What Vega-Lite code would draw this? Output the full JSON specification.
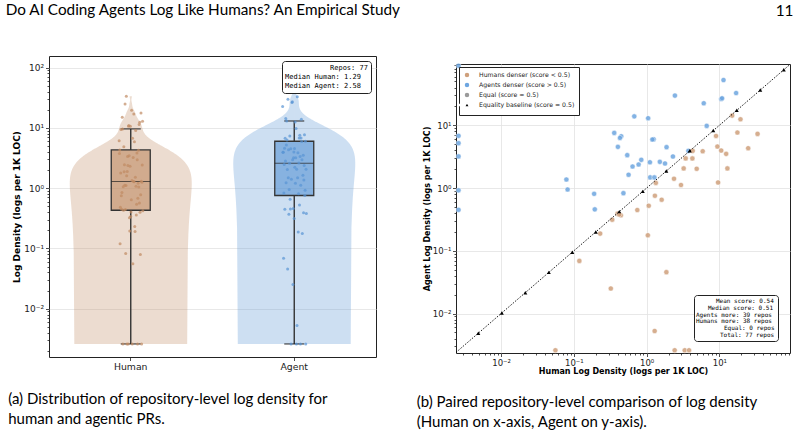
{
  "$schema": "https://vega.github.io/schema/vega-lite/v6.json",
  "background": "white",
  "padding": {"left": 5, "top": 3, "right": 0, "bottom": 0},
  "config": {
    "font": "DejaVu Sans",
    "view": {"stroke": "#222", "strokeWidth": 1},
    "axis": {"labelFont": "DejaVu Sans", "titleFont": "DejaVu Sans", "labelColor": "#222", "titleColor": "#000", "tickColor": "#222", "tickWidth": 0.8, "domain": false, "gridColor": "#e2e2e2", "gridWidth": 0.8, "labelOverlap": false, "labelFlush": false},
    "legend": {"labelFont": "DejaVu Sans"},
    "title": {"font": "Lato", "fontWeight": "normal", "color": "#000"}
  },
  "datasets": {
    "repos": [
      {"repo": "r30", "Human": 0.0026, "Agent": 89, "denser": "Agents"},
      {"repo": "r60", "Human": 0.0026, "Agent": 6.8, "denser": "Agents"},
      {"repo": "r13", "Human": 0.0026, "Agent": 5.2, "denser": "Agents"},
      {"repo": "r43", "Human": 0.0026, "Agent": 3.2, "denser": "Agents"},
      {"repo": "r73", "Human": 0.0026, "Agent": 0.92, "denser": "Agents"},
      {"repo": "r26", "Human": 0.0026, "Agent": 0.45, "denser": "Agents"},
      {"repo": "r56", "Human": 0.359, "Agent": 7.57, "denser": "Agents"},
      {"repo": "r09", "Human": 0.448, "Agent": 6.71, "denser": "Agents"},
      {"repo": "r39", "Human": 0.403, "Agent": 4.54, "denser": "Agents"},
      {"repo": "r69", "Human": 0.079, "Agent": 1.37, "denser": "Agents"},
      {"repo": "r22", "Human": 0.082, "Agent": 0.95, "denser": "Agents"},
      {"repo": "r52", "Human": 0.19, "Agent": 0.81, "denser": "Agents"},
      {"repo": "r05", "Human": 0.48, "Agent": 0.83, "denser": "Agents"},
      {"repo": "r35", "Human": 0.194, "Agent": 0.458, "denser": "Agents"},
      {"repo": "r65", "Human": 11.4, "Agent": 52.7, "denser": "Agents"},
      {"repo": "r18", "Human": 2.45, "Agent": 29.8, "denser": "Agents"},
      {"repo": "r48", "Human": 17.0, "Agent": 32.7, "denser": "Agents"},
      {"repo": "r01", "Human": 6.1, "Agent": 22.5, "denser": "Agents"},
      {"repo": "r31", "Human": 10.6, "Agent": 26.3, "denser": "Agents"},
      {"repo": "r61", "Human": 0.677, "Agent": 13.9, "denser": "Agents"},
      {"repo": "r14", "Human": 1.05, "Agent": 13.0, "denser": "Agents"},
      {"repo": "r44", "Human": 6.7, "Agent": 9.8, "denser": "Agents"},
      {"repo": "r74", "Human": 1.25, "Agent": 6.0, "denser": "Agents"},
      {"repo": "r27", "Human": 1.88, "Agent": 4.49, "denser": "Agents"},
      {"repo": "r57", "Human": 0.542, "Agent": 3.35, "denser": "Agents"},
      {"repo": "r10", "Human": 0.845, "Agent": 2.82, "denser": "Agents"},
      {"repo": "r40", "Human": 0.641, "Agent": 2.21, "denser": "Agents"},
      {"repo": "r70", "Human": 0.776, "Agent": 2.38, "denser": "Agents"},
      {"repo": "r23", "Human": 1.11, "Agent": 2.58, "denser": "Agents"},
      {"repo": "r53", "Human": 1.52, "Agent": 2.62, "denser": "Agents"},
      {"repo": "r06", "Human": 1.79, "Agent": 2.47, "denser": "Agents"},
      {"repo": "r36", "Human": 2.3, "Agent": 3.19, "denser": "Agents"},
      {"repo": "r66", "Human": 0.565, "Agent": 1.63, "denser": "Agents"},
      {"repo": "r19", "Human": 1.12, "Agent": 1.48, "denser": "Agents"},
      {"repo": "r49", "Human": 1.28, "Agent": 1.48, "denser": "Agents"},
      {"repo": "r02", "Human": 3.75, "Agent": 3.92, "denser": "Agents"},
      {"repo": "r32", "Human": 10.9, "Agent": 27.0, "denser": "Agents"},
      {"repo": "r62", "Human": 1.2, "Agent": 5.95, "denser": "Agents"},
      {"repo": "r15", "Human": 0.43, "Agent": 6.3, "denser": "Agents"},
      {"repo": "r45", "Human": 0.0558, "Agent": 0.0026, "denser": "Humans"},
      {"repo": "r75", "Human": 2.43, "Agent": 0.0026, "denser": "Humans"},
      {"repo": "r28", "Human": 3.34, "Agent": 0.0026, "denser": "Humans"},
      {"repo": "r58", "Human": 3.83, "Agent": 0.0026, "denser": "Humans"},
      {"repo": "r11", "Human": 15.0, "Agent": 14.3, "denser": "Humans"},
      {"repo": "r41", "Human": 19.5, "Agent": 12.5, "denser": "Humans"},
      {"repo": "r71", "Human": 17.7, "Agent": 7.68, "denser": "Humans"},
      {"repo": "r24", "Human": 33.5, "Agent": 7.3, "denser": "Humans"},
      {"repo": "r54", "Human": 9.0, "Agent": 6.78, "denser": "Humans"},
      {"repo": "r07", "Human": 9.4, "Agent": 4.6, "denser": "Humans"},
      {"repo": "r37", "Human": 10.6, "Agent": 3.97, "denser": "Humans"},
      {"repo": "r67", "Human": 12.4, "Agent": 3.51, "denser": "Humans"},
      {"repo": "r20", "Human": 24.9, "Agent": 4.32, "denser": "Humans"},
      {"repo": "r50", "Human": 5.9, "Agent": 3.87, "denser": "Humans"},
      {"repo": "r03", "Human": 4.3, "Agent": 3.92, "denser": "Humans"},
      {"repo": "r33", "Human": 3.44, "Agent": 2.97, "denser": "Humans"},
      {"repo": "r63", "Human": 4.26, "Agent": 2.97, "denser": "Humans"},
      {"repo": "r16", "Human": 4.88, "Agent": 2.03, "denser": "Humans"},
      {"repo": "r46", "Human": 3.23, "Agent": 2.06, "denser": "Humans"},
      {"repo": "r76", "Human": 12.9, "Agent": 2.06, "denser": "Humans"},
      {"repo": "r29", "Human": 2.38, "Agent": 1.41, "denser": "Humans"},
      {"repo": "r59", "Human": 2.97, "Agent": 1.12, "denser": "Humans"},
      {"repo": "r12", "Human": 9.6, "Agent": 1.23, "denser": "Humans"},
      {"repo": "r42", "Human": 1.34, "Agent": 1.21, "denser": "Humans"},
      {"repo": "r72", "Human": 1.3, "Agent": 0.755, "denser": "Humans"},
      {"repo": "r25", "Human": 1.61, "Agent": 0.652, "denser": "Humans"},
      {"repo": "r55", "Human": 1.07, "Agent": 0.523, "denser": "Humans"},
      {"repo": "r08", "Human": 0.745, "Agent": 0.447, "denser": "Humans"},
      {"repo": "r38", "Human": 0.337, "Agent": 0.313, "denser": "Humans"},
      {"repo": "r68", "Human": 0.398, "Agent": 0.391, "denser": "Humans"},
      {"repo": "r21", "Human": 0.443, "Agent": 0.368, "denser": "Humans"},
      {"repo": "r51", "Human": 0.23, "Agent": 0.188, "denser": "Humans"},
      {"repo": "r04", "Human": 0.119, "Agent": 0.069, "denser": "Humans"},
      {"repo": "r34", "Human": 0.322, "Agent": 0.0251, "denser": "Humans"},
      {"repo": "r64", "Human": 1.04, "Agent": 0.177, "denser": "Humans"},
      {"repo": "r17", "Human": 1.87, "Agent": 0.0457, "denser": "Humans"},
      {"repo": "r47", "Human": 1.29, "Agent": 0.00527, "denser": "Humans"},
      {"repo": "r77", "Human": 0.42, "Agent": 0.38, "denser": "Humans"}
    ],
    "diag": [{"v": 0.0024}, {"v": 95}],
    "diagMarkers": [
      {"v": 0.004864}, {"v": 0.01023}, {"v": 0.02153}, {"v": 0.04529}, {"v": 0.09521},
      {"v": 0.2002}, {"v": 0.4211}, {"v": 0.8858}, {"v": 1.864}, {"v": 3.92},
      {"v": 8.246}, {"v": 17.34}, {"v": 36.48}, {"v": 76.74}
    ]
  },
  "resolve": {"scale": {"color": "independent", "shape": "independent", "strokeDash": "independent"}},
  "align": "none",
  "spacing": 14,
  "hconcat": [
    {
      "title": {"text": "Do AI Coding Agents Log Like Humans? An Empirical Study", "anchor": "start", "frame": "bounds", "offset": 37, "dx": -2, "fontSize": 15.3},
      "resolve": {"scale": {"color": "independent", "strokeDash": "independent"}},
      "vconcat": [
        {
          "width": 327,
          "height": 301,
          "title": {"text": ["(a) Distribution of repository-level log density for", "human and agentic PRs."], "orient": "bottom", "anchor": "start", "frame": "bounds", "offset": 20, "dx": -4.5, "fontSize": 15, "lineHeight": 20},
          "data": {"name": "repos"},
          "resolve": {"scale": {"x": "independent"}, "axis": {"x": "independent", "y": "independent"}},
          "layer": [
            {
              "transform": [{"density": "Human", "bandwidth": 2.7, "steps": 400, "as": ["value", "density"]}],
              "mark": {"type": "area", "orient": "horizontal", "color": "#C08A62", "opacity": 0.3},
              "encoding": {
                "y": {"field": "value", "type": "quantitative", "scale": {"type": "log", "domain": [0.00158, 155.6], "nice": false},
                  "axis": {"orient": "left", "values": [0.002, 0.003, 0.004, 0.005, 0.006, 0.007, 0.008, 0.009, 0.02, 0.03, 0.04, 0.05, 0.06, 0.07, 0.08, 0.09, 0.2, 0.3, 0.4, 0.5, 0.6, 0.7, 0.8, 0.9, 2, 3, 4, 5, 6, 7, 8, 9, 20, 30, 40, 50, 60, 70, 80, 90], "labels": false, "grid": false, "tickSize": 2, "title": null}},
                "x": {"field": "density", "type": "quantitative", "scale": {"range": [81.75, 142.75], "zero": true, "nice": false}, "axis": null}
              }
            },
            {
              "transform": [{"density": "Human", "bandwidth": 2.7, "steps": 400, "as": ["value", "density"]}],
              "mark": {"type": "area", "orient": "horizontal", "color": "#C08A62", "opacity": 0.3},
              "encoding": {
                "y": {"field": "value", "type": "quantitative", "axis": null},
                "x": {"field": "density", "type": "quantitative", "scale": {"range": [81.75, 20.75], "zero": true, "nice": false}, "axis": null}
              }
            },
            {
              "transform": [{"density": "Agent", "bandwidth": 5.9, "steps": 400, "as": ["value", "density"]}],
              "mark": {"type": "area", "orient": "horizontal", "color": "#5894D4", "opacity": 0.3},
              "encoding": {
                "y": {"field": "value", "type": "quantitative", "axis": null},
                "x": {"field": "density", "type": "quantitative", "scale": {"range": [245.25, 306.25], "zero": true, "nice": false}, "axis": null}
              }
            },
            {
              "transform": [{"density": "Agent", "bandwidth": 5.9, "steps": 400, "as": ["value", "density"]}],
              "mark": {"type": "area", "orient": "horizontal", "color": "#5894D4", "opacity": 0.3},
              "encoding": {
                "y": {"field": "value", "type": "quantitative", "axis": null},
                "x": {"field": "density", "type": "quantitative", "scale": {"range": [245.25, 184.25], "zero": true, "nice": false}, "axis": null}
              }
            },
            {
              "transform": [{"fold": ["Human", "Agent"], "as": ["group", "value"]}],
              "mark": {"type": "boxplot", "extent": 1.5, "size": 39, "outliers": false,
                "box": {"fillOpacity": 0.6, "stroke": "#333", "strokeWidth": 1.3},
                "median": {"color": "#222", "strokeWidth": 1.5},
                "rule": {"color": "#333", "strokeWidth": 1.4},
                "ticks": {"color": "#222", "size": 20, "strokeWidth": 1.4}},
              "encoding": {
                "x": {"field": "group", "type": "nominal", "scale": {"domain": ["Human", "Agent"], "paddingInner": 0, "paddingOuter": 0},
                  "axis": {"orient": "bottom", "title": null, "labelAngle": 0, "labelFontSize": 9.3, "tickSize": 3.5, "labelPadding": 2, "grid": false}},
                "y": {"field": "value", "type": "quantitative",
                  "axis": {"orient": "left", "values": [0.01, 0.1, 1, 10, 100], "labelExpr": "'10' + (datum.value < 0.05 ? '⁻²' : datum.value < 0.5 ? '⁻¹' : datum.value < 5 ? '⁰' : datum.value < 50 ? '¹' : '²')", "grid": true, "title": "Log Density (logs per 1K LOC)", "titleFontWeight": "bold", "titleFontSize": 9, "labelFontSize": 9, "tickSize": 3.5, "labelPadding": 2, "titlePadding": 2}},
                "color": {"field": "group", "type": "nominal", "scale": {"domain": ["Human", "Agent"], "range": ["#C08A62", "#5894D4"]}, "legend": null}
              }
            },
            {
              "transform": [{"fold": ["Human", "Agent"], "as": ["group", "value"]}],
              "mark": {"type": "circle", "size": 9, "opacity": 0.7},
              "encoding": {
                "x": {"field": "group", "type": "nominal", "scale": {"domain": ["Human", "Agent"], "paddingInner": 0, "paddingOuter": 0}, "axis": null},
                "xOffset": {"field": "repo", "type": "nominal", "scale": {"range": [70, 94]}},
                "y": {"field": "value", "type": "quantitative", "axis": null},
                "color": {"field": "group", "type": "nominal", "legend": null},
                "strokeDash": {"datum": "\u2800\u2800\u2800\u2800\u2800\u2800\u2800\u2800\u2800Repos: 77", "scale": {"domain": ["\u2800\u2800\u2800\u2800\u2800\u2800\u2800\u2800\u2800Repos: 77", "Median Human: 1.29", "Median Agent: 2.58"]},
                  "legend": {"title": null, "orient": "top-right", "offset": 5, "labelFont": "DejaVu Sans Mono", "labelFontSize": 7, "labelColor": "#000", "symbolType": "circle", "symbolSize": 0, "symbolOpacity": 0, "symbolStrokeWidth": 0, "labelOffset": -7, "rowPadding": 1.3, "padding": 3, "strokeColor": "#222", "fillColor": "white", "cornerRadius": 3, "labelLimit": 400}}
              }
            }
          ]
        }
      ]
    },
    {
      "title": {"text": "11", "anchor": "end", "frame": "bounds", "offset": 37, "dx": 3, "fontSize": 15.3},
      "resolve": {"scale": {"color": "independent", "shape": "independent", "strokeDash": "independent"}},
      "spacing": 4,
      "vconcat": [
        {
          "width": 334,
          "height": 1,
          "data": {"values": [{}]},
          "mark": {"type": "point", "opacity": 0, "size": 0},
          "encoding": {},
          "view": {"stroke": null}
        },
        {
          "width": 334,
          "height": 289,
          "title": {"text": ["(b) Paired repository-level comparison of log density", "(Human on x-axis, Agent on y-axis)."], "orient": "bottom", "anchor": "start", "frame": "bounds", "offset": 19, "dx": -7, "fontSize": 15, "lineHeight": 20},
          "resolve": {"axis": {"x": "independent", "y": "independent"}},
          "layer": [
            {
              "data": {"name": "repos"},
              "mark": {"type": "point", "filled": true, "size": 26, "opacity": 0.85, "stroke": "white", "strokeWidth": 0.6},
              "encoding": {
                "x": {"field": "Human", "type": "quantitative", "scale": {"type": "log", "domain": [0.0024, 93.5], "nice": false},
                  "axis": {"orient": "bottom", "values": [0.01, 0.1, 1, 10], "labelExpr": "'10' + (datum.value < 0.05 ? '⁻²' : datum.value < 0.5 ? '⁻¹' : datum.value < 5 ? '⁰' : datum.value < 50 ? '¹' : '²')", "grid": true, "title": "Human Log Density (logs per 1K LOC)", "titleFontWeight": "bold", "titleFontSize": 8, "labelFontSize": 8.5, "tickSize": 3.5, "labelPadding": 1.5, "titlePadding": 1}},
                "y": {"field": "Agent", "type": "quantitative", "scale": {"type": "log", "domain": [0.00235, 95], "nice": false},
                  "axis": {"orient": "left", "values": [0.01, 0.1, 1, 10], "labelExpr": "'10' + (datum.value < 0.05 ? '⁻²' : datum.value < 0.5 ? '⁻¹' : datum.value < 5 ? '⁰' : datum.value < 50 ? '¹' : '²')", "grid": true, "title": "Agent Log Density (logs per 1K LOC)", "titleFontWeight": "bold", "titleFontSize": 8, "labelFontSize": 8.5, "tickSize": 3.5, "labelPadding": 1.5, "titlePadding": 0.5}},
                "color": {"field": "denser", "type": "nominal",
                  "scale": {"domain": ["Humans", "Agents", "Equal", "Baseline"], "range": ["#CFA07C", "#6EA6E0", "#9A9A9A", "#000000"]},
                  "legend": {"title": null, "orient": "top-left", "offset": 3, "labelExpr": "datum.label == 'Humans' ? 'Humans denser (score < 0.5)' : datum.label == 'Agents' ? 'Agents denser (score > 0.5)' : datum.label == 'Equal' ? 'Equal (score = 0.5)' : 'Equality baseline (score = 0.5)'", "labelFontSize": 6.2, "labelColor": "#222", "symbolSize": 36, "labelOffset": 8, "rowPadding": -3.5, "padding": 4, "strokeColor": "#222", "fillColor": "white", "symbolOpacity": 1}},
                "shape": {"field": "denser", "type": "nominal",
                  "scale": {"domain": ["Humans", "Agents", "Equal", "Baseline"], "range": ["circle", "circle", "circle", "M-2.4,-0.16H-2V0.16H-2.4ZM-1.75,-0.16H-1.35V0.16H-1.75ZM-1.1,-0.16H-0.75V0.16H-1.1ZM0.75,-0.16H1.1V0.16H0.75ZM1.35,-0.16H1.75V0.16H1.35ZM2,-0.16H2.4V0.16H2ZM0,-0.9L0.95,0.7L-0.95,0.7Z"]},
                  "legend": {"title": null, "orient": "top-left", "offset": 3, "labelExpr": "datum.label == 'Humans' ? 'Humans denser (score < 0.5)' : datum.label == 'Agents' ? 'Agents denser (score > 0.5)' : datum.label == 'Equal' ? 'Equal (score = 0.5)' : 'Equality baseline (score = 0.5)'", "labelFontSize": 6.2, "labelColor": "#222", "symbolSize": 36, "labelOffset": 8, "rowPadding": -3.5, "padding": 4, "strokeColor": "#222", "fillColor": "white", "symbolOpacity": 1}},
                "strokeDash": {"datum": "\u2800\u2800\u2800\u2800\u2800Mean score: 0.54", "scale": {"domain": ["\u2800\u2800\u2800\u2800\u2800Mean score: 0.54", "\u2800\u2800\u2800Median score: 0.51", "Agents more: 39 repos", "Humans more: 38 repos", "\u2800\u2800\u2800\u2800\u2800\u2800\u2800Equal: 0 repos", "\u2800\u2800\u2800\u2800\u2800\u2800Total: 77 repos"]},
                  "legend": {"title": null, "orient": "bottom-right", "offset": 12, "labelFont": "DejaVu Sans Mono", "labelFontSize": 6.0, "labelColor": "#000", "symbolType": "circle", "symbolSize": 0, "symbolOpacity": 0, "symbolStrokeWidth": 0, "labelOffset": -7, "rowPadding": 0.8, "padding": 3, "strokeColor": "#222", "fillColor": "white", "cornerRadius": 3, "labelLimit": 400}}
              }
            },
            {
              "data": {"name": "diag"},
              "mark": {"type": "line", "color": "#000", "strokeWidth": 0.9, "strokeDash": [1.5, 1.5], "clip": true},
              "encoding": {
                "x": {"field": "v", "type": "quantitative", "scale": {"type": "log", "domain": [0.0024, 93.5], "nice": false},
                  "axis": {"values": [0.003, 0.004, 0.005, 0.006, 0.007, 0.008, 0.009, 0.02, 0.03, 0.04, 0.05, 0.06, 0.07, 0.08, 0.09, 0.2, 0.3, 0.4, 0.5, 0.6, 0.7, 0.8, 0.9, 2, 3, 4, 5, 6, 7, 8, 9, 20, 30, 40, 50, 60, 70, 80, 90], "labels": false, "grid": false, "tickSize": 2, "title": null, "orient": "bottom"}},
                "y": {"field": "v", "type": "quantitative", "scale": {"type": "log", "domain": [0.00235, 95], "nice": false},
                  "axis": {"values": [0.003, 0.004, 0.005, 0.006, 0.007, 0.008, 0.009, 0.02, 0.03, 0.04, 0.05, 0.06, 0.07, 0.08, 0.09, 0.2, 0.3, 0.4, 0.5, 0.6, 0.7, 0.8, 0.9, 2, 3, 4, 5, 6, 7, 8, 9, 20, 30, 40, 50, 60, 70, 80, 90], "labels": false, "grid": false, "tickSize": 2, "title": null, "orient": "left"}}
              }
            },
            {
              "data": {"name": "diagMarkers"},
              "mark": {"type": "point", "shape": "triangle-up", "filled": true, "color": "#000", "size": 16, "opacity": 1},
              "encoding": {
                "x": {"field": "v", "type": "quantitative", "scale": {"type": "log", "domain": [0.0024, 93.5], "nice": false}, "axis": null},
                "y": {"field": "v", "type": "quantitative", "scale": {"type": "log", "domain": [0.00235, 95], "nice": false}, "axis": null}
              }
            }
          ]
        }
      ]
    }
  ]
}
